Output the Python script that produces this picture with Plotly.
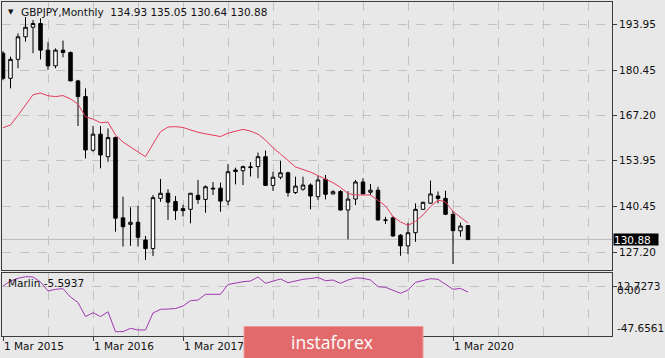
import plotly.graph_objects as go
import pandas as pd

# ---------------- data (monthly GBPJPY, Mar 2015 .. May 2020) ----------------
months = pd.date_range("2015-03-01", periods=63, freq="MS").strftime("%Y-%m").tolist()

opens = [185.4, 178.05, 183.6, 190.2, 193.0, 194.1, 186.3, 181.7, 186.3, 185.6,
         177.3, 172.7, 157.0, 161.7, 155.1, 160.7, 137.2, 135.3, 135.9, 130.7,
         128.2, 142.9, 144.4, 142.0, 139.9, 139.7, 143.8, 142.6, 145.9, 145.9,
         142.1, 151.2, 151.0, 151.9, 152.2, 155.1, 146.7, 149.1, 150.4, 144.6,
         145.6, 146.8, 143.4, 148.5, 144.2, 144.9, 139.5, 142.7, 147.7, 144.7,
         145.3, 136.6, 137.2, 132.1, 129.0, 132.85, 139.7, 141.5, 143.6, 142.9,
         138.25, 133.4, 134.93]
highs = [186.0, 184.4, 191.2, 196.0, 195.1, 195.6, 188.6, 186.8, 189.1, 185.9,
         177.6, 175.1, 164.1, 164.1, 163.4, 161.0, 143.4, 140.3, 140.7, 131.9,
         143.9, 148.6, 145.6, 143.6, 141.05, 144.4, 148.3, 146.7, 147.7, 147.5,
         152.9, 151.9, 152.5, 153.5, 156.3, 156.9, 150.7, 153.9, 150.7, 149.25,
         149.25, 147.3, 149.5, 149.75, 145.3, 145.35, 145.0, 148.3, 148.8, 147.1,
         146.3, 137.5, 137.7, 132.45, 135.8, 141.45, 141.95, 148.1, 144.9, 145.15,
         139.3, 135.8, 135.05]
lows = [177.5, 175.1, 181.0, 188.8, 185.4, 183.6, 180.5, 181.0, 184.2, 177.2,
        164.1, 154.6, 156.6, 151.7, 153.6, 133.15, 128.8, 129.0, 128.8, 124.9,
        126.0, 141.9, 136.6, 136.6, 137.6, 135.6, 141.3, 138.7, 143.9, 139.0,
        140.9, 147.0, 146.8, 149.3, 148.8, 146.7, 145.1, 148.5, 143.4, 144.2,
        145.15, 139.7, 142.4, 142.6, 144.1, 139.3, 130.9, 140.95, 144.2, 143.9,
        136.4, 135.4, 131.7, 126.1, 126.6, 130.2, 139.5, 141.25, 141.45, 138.0,
        123.7, 131.7, 130.64]
closes = [178.05, 183.6, 190.2, 193.0, 194.1, 186.3, 181.7, 186.3, 185.6, 177.3,
          172.7, 157.1, 161.7, 155.6, 160.7, 137.1, 134.6, 135.9, 131.5, 128.2,
          143.1, 144.4, 141.8, 139.3, 139.3, 144.4, 142.6, 146.3, 145.7, 142.1,
          150.7, 150.8, 152.2, 152.1, 155.1, 146.7, 149.1, 150.4, 144.6, 146.5,
          146.8, 143.6, 148.3, 144.1, 144.85, 139.5, 142.7, 147.7, 144.2, 145.3,
          136.6, 136.5, 131.9, 129.0, 132.85, 139.7, 141.75, 144.2, 142.9, 138.25,
          133.45, 134.8, 130.88]
ma_values = [163.6, 164.4, 167.2, 170.4, 173.25, 173.75, 172.95, 172.7, 173.0, 172.0,
             170.5, 166.8, 166.1, 165.05, 165.25, 161.45, 159.4, 157.95, 156.5, 155.1,
             158.85, 162.4, 163.8, 163.9, 163.65, 162.9, 162.25, 161.8, 161.35, 161.0,
             162.0, 162.6, 163.1, 162.6, 161.7, 160.0, 157.7, 155.9, 153.85, 152.1,
             151.35, 150.6, 149.6, 148.45, 147.5, 146.1, 144.35, 143.9, 143.9, 143.9,
             142.3, 140.7, 137.55, 136.0, 135.0, 136.15, 138.05, 140.5, 142.4, 141.85,
             139.1, 137.3, 135.7]
marlin_values = [0.27, 5.06, 7.65, 9.18, 8.9, 4.1, -4.5, -2.9, -2.3, -10.3,
                 -15.55, -29.0, -25.3, -29.0, -24.4, -43.5, -43.5, -40.3, -41.9, -41.9,
                 -25.6, -22.1, -21.8, -21.3, -18.9, -13.8, -13.2, -7.7, -7.7, -7.7,
                 1.7, 3.14, 4.39, 5.06, 8.9, 2.85, 5.06, 7.0, 3.43, 5.06,
                 6.69, 7.46, 8.4, 5.35, 6.0, 2.85, 6.0, 7.95, 7.65, 6.0,
                 -0.4, -1.0, -3.9, -6.7, -3.57, 3.8, 5.54, 7.26, 6.69, 1.7,
                 -2.9, -2.1, -5.5937]

price_ticks = [193.95, 180.45, 167.20, 153.95, 140.45, 127.20]
price_tick_labels = ["193.95", "180.45", "167.20", "153.95", "140.45", "127.20"]
time_tick_months = ["2015-03", "2016-03", "2017-03", "2018-03", "2019-03", "2020-03"]
# 2018 / 2019 labels sit under the instaforex badge in the reference (not visible)
time_tick_labels = ["1 Mar 2015", "1 Mar 2016", "1 Mar 2017", "", "", "1 Mar 2020"]
marlin_max, marlin_min = 12.7273, -47.6561

# ---------------- figure ----------------
xs = list(range(len(months)))
tickpos = [months.index(m) for m in time_tick_months]

BG = "#e8e8e8"
GRID = "#c2c2c2"
FRAME = "#3c3c3c"
FONT = "DejaVu Sans"
TXT = "#111111"

fig = go.Figure()
fig.add_trace(go.Candlestick(
    x=xs, open=opens, high=highs, low=lows, close=closes,
    increasing=dict(line=dict(color="black", width=1), fillcolor="white"),
    decreasing=dict(line=dict(color="black", width=1), fillcolor="black"),
    whiskerwidth=0, showlegend=False, xaxis="x", yaxis="y", hoverinfo="skip"))
fig.add_trace(go.Scatter(x=xs, y=ma_values, mode="lines",
                         line=dict(color="#e63c5c", width=1),
                         showlegend=False, xaxis="x", yaxis="y", hoverinfo="skip"))
fig.add_trace(go.Scatter(x=xs, y=marlin_values, mode="lines",
                         line=dict(color="#a236b4", width=1),
                         showlegend=False, xaxis="x2", yaxis="y2", hoverinfo="skip"))

W, H = 665, 358
ML, MR, MT, MB = 2, 53, 2, 22
plot_w = W - ML - MR
plot_h = H - MT - MB
main_bottom_px, sub_top_px = 270, 273


def py(px):  # pixel y -> paper y
    return (H - MB - px) / plot_h


def pxx(px):  # pixel x -> paper x
    return (px - ML) / plot_w


bar_px = 7.5
x_range = [(ML - 3) / bar_px, (W - MR - 3) / bar_px]
px_per_unit = 3.416
y_top = 193.95 + (24 - MT) / px_per_unit
y_bot = 193.95 - (main_bottom_px - 24) / px_per_unit

common_x = dict(range=x_range, tickmode="array", tickvals=tickpos,
                showgrid=True, gridcolor=GRID, griddash="dash", gridwidth=1,
                minor=dict(tickmode="linear", tick0=0, dtick=6, showgrid=True,
                           gridcolor=GRID, griddash="dash", gridwidth=1, ticks=""),
                showline=True, mirror=True, linecolor=FRAME, linewidth=1,
                zeroline=False, fixedrange=True)

fig.update_layout(
    width=W, height=H,
    margin=dict(l=ML, r=MR, t=MT, b=MB, pad=0),
    paper_bgcolor=BG, plot_bgcolor=BG,
    font=dict(family=FONT, size=10.5, color=TXT),
    showlegend=False,
    boxgap=0.33,
    xaxis=dict(**common_x, anchor="y", domain=[0, 1], showticklabels=False, ticks="",
               rangeslider=dict(visible=False)),
    xaxis2=dict(**common_x, anchor="y2", domain=[0, 1], matches="x",
                ticktext=time_tick_labels, ticks="outside", ticklen=4,
                tickcolor=FRAME, ticklabelposition="outside right",
                tickfont=dict(family=FONT, size=10.5, color=TXT)),
    yaxis=dict(domain=[py(main_bottom_px), 1], range=[y_bot, y_top], anchor="x",
               side="right", tickmode="array", tickvals=price_ticks,
               ticktext=price_tick_labels, ticks="outside", ticklen=4, tickcolor=FRAME,
               showgrid=True, gridcolor=GRID, griddash="dash", zeroline=False,
               showline=True, mirror=True, linecolor=FRAME, linewidth=1, fixedrange=True),
    yaxis2=dict(domain=[0, py(sub_top_px)], range=[marlin_min, marlin_max], anchor="x2",
                side="right", tickmode="array", tickvals=[0], ticktext=[""],
                ticks="outside", ticklen=4, tickcolor=FRAME,
                showgrid=True, gridcolor=GRID, griddash="dash", zeroline=False,
                showline=True, mirror=True, linecolor=FRAME, linewidth=1, fixedrange=True),
)

# current bid line
fig.add_shape(type="line", xref="x domain", yref="y", x0=0, x1=1,
              y0=closes[-1], y1=closes[-1], line=dict(color="#bdbdbd", width=1), layer="below")

# instaforex badge
fig.add_shape(type="rect", xref="paper", yref="paper",
              x0=pxx(244), x1=pxx(423), y0=py(362), y1=py(326.5),
              fillcolor="#e26a6b", line=dict(color="#ef9a9a", width=1), layer="above")


def note(text, xpx, ypx, xanchor="left", size=10.5, color=TXT, family=FONT, **kw):
    d = dict(text=text, x=pxx(xpx), y=py(ypx), xref="paper", yref="paper",
             xanchor=xanchor, yanchor="middle", showarrow=False,
             font=dict(size=size, color=color, family=family))
    d.update(kw)
    return d


ann = [
    note("▼", 10.5, 11.5, xanchor="center", size=7),
    note("GBPJPY,Monthly\u00a0\u00a0%.2f %.2f %.2f %.2f" % (opens[-1], highs[-1], lows[-1], closes[-1]),
         19, 12),
    note("Marlin %.4f" % marlin_values[-1], 6, 283),
    note("%.4f" % marlin_max, 615, 285.5),
    note("0.00", 615, 289.5),
    note("%.4f" % marlin_min, 615, 328.3),
    note("instaforex", 332, 341.5, xanchor="center", size=17.5, color="#ffffff", family="Open Sans"),
    dict(text="%.2f" % closes[-1], x=1, xref="paper", y=closes[-1], yref="y",
         xanchor="left", yanchor="middle", xshift=0.5, showarrow=False, bgcolor="#000000",
         font=dict(size=10.5, color="#ffffff"), width=44, height=11, align="left",
         borderpad=0),
]
fig.update_layout(annotations=ann)

fig.write_html("out.html", config={"displayModeBar": False},
               post_script="document.body.style.margin='0';document.body.style.overflow='hidden';")
